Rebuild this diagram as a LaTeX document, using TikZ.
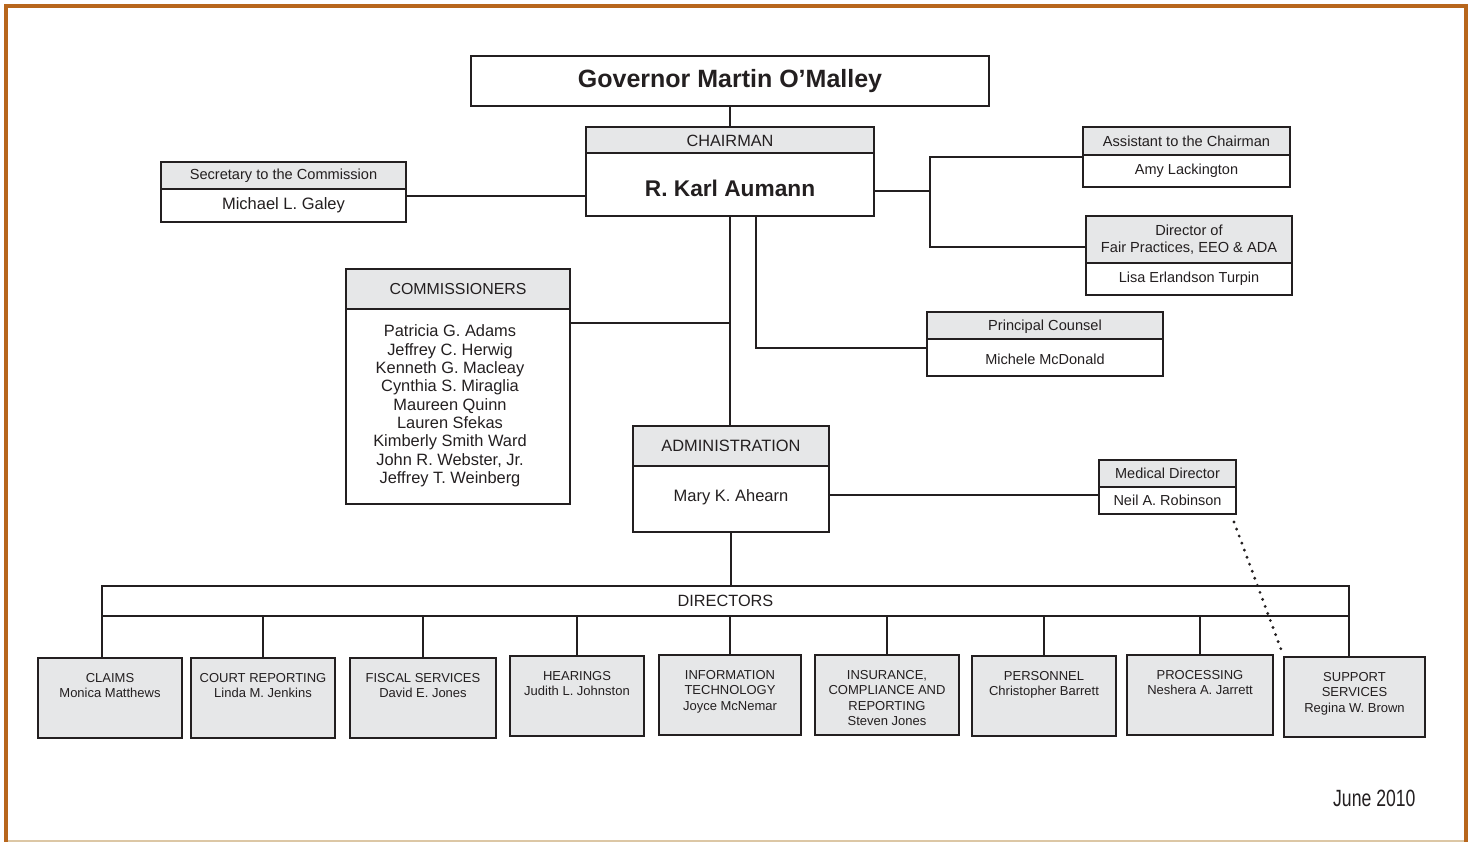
\documentclass[tikz,border=0pt]{standalone}
\usepackage{fontspec}
\setmainfont{Liberation Sans}
\usepackage{xcolor}
\usepackage{tikz}
\usetikzlibrary{positioning,calc}

\definecolor{boxgray}{HTML}{E6E7E8}
\definecolor{inkline}{HTML}{231F20}
\definecolor{frameorange}{HTML}{B8661C}
\definecolor{frametan}{HTML}{DCC7A5}

\newcommand{\fsz}[2]{\fontsize{#1}{#2}\selectfont}
\newcommand{\deptbox}[1]{\parbox[t][78pt][t]{132pt}{\centering\vspace*{14pt}#1}}

\begin{document}
\begin{tikzpicture}[x=1pt,y=-1pt,
  hdr/.style={draw=inkline,line width=1.6pt,fill=boxgray,text=inkline,inner sep=0pt,outer sep=0pt,align=center},
  body/.style={draw=inkline,line width=1.6pt,fill=white,text=inkline,inner sep=0pt,outer sep=0pt,align=center},
  dept/.style={draw=inkline,line width=1.6pt,fill=boxgray,text=inkline,inner sep=0pt,outer sep=0pt,anchor=north west,minimum height=80pt,font=\fsz{13}{15.5}},
  wire/.style={draw=inkline,line width=1.5pt},
  dotline/.style={draw=inkline,line width=3.2pt,line cap=round,dash pattern=on 0pt off 7.5pt}]

\useasboundingbox (0,0) rectangle (1474,842);

% frame
\draw[frameorange,line width=4pt] (1466,842) -- (1466,6) -- (6,6) -- (6,842);
\draw[frametan,line width=2pt] (8,841) -- (1464,841);

% top of the chart
\node[body,minimum width=518,minimum height=50,anchor=north west,font=\fsz{25}{28}\bfseries] (gov) at (471,56) {Governor Martin O’Malley};

\node[hdr,minimum width=288,minimum height=26,anchor=north west,text height=14pt,font=\fsz{16.3}{19}] (chairT) at (586,127) {CHAIRMAN};
\node[body,minimum width=288,minimum height=63,below=0pt of chairT,text height=24pt,font=\fsz{22.7}{26}\bfseries] (chair) {R. Karl Aumann};

\node[hdr,minimum width=245,minimum height=27,anchor=north west,font=\fsz{14.6}{17}] (secT) at (161,162) {Secretary to the Commission};
\node[body,minimum width=245,minimum height=33,below=0pt of secT,font=\fsz{16.5}{19}] (sec) {Michael L. Galey};

\node[hdr,minimum width=207,minimum height=28,anchor=north west,font=\fsz{14.6}{17}] (asstT) at (1083,127) {Assistant to the Chairman};
\node[body,minimum width=207,minimum height=32,below=0pt of asstT,font=\fsz{14.5}{17}] (asst) {Amy Lackington};

\node[hdr,minimum width=206,minimum height=47,anchor=north west,font=\fsz{14.6}{17}] (fairT) at (1086,216) {Director of\\Fair Practices, EEO \& ADA};
\node[body,minimum width=206,minimum height=32,below=0pt of fairT,font=\fsz{14.5}{17}] (fair) {Lisa Erlandson Turpin};

\node[hdr,minimum width=236,minimum height=27,anchor=north west,text height=14pt,font=\fsz{14.6}{17}] (counselT) at (927,312) {Principal Counsel};
\node[body,minimum width=236,minimum height=37,below=0pt of counselT,text height=14pt,font=\fsz{14.5}{17}] (counsel) {Michele McDonald};

\node[hdr,minimum width=224,minimum height=40,anchor=north west,font=\fsz{15.9}{19}] (commT) at (346,269) {COMMISSIONERS};
\node[body,minimum width=224,minimum height=195,below=0pt of commT,font=\fsz{16.4}{18.3}] (comm) {\begin{tabular}{@{}c@{}}Patricia G. Adams\\Jeffrey C. Herwig\\Kenneth G. Macleay\\Cynthia S. Miraglia\\Maureen Quinn\\Lauren Sfekas\\Kimberly Smith Ward\\John R. Webster, Jr.\\Jeffrey T. Weinberg\end{tabular}\hspace*{16pt}};

\node[hdr,minimum width=196,minimum height=40,anchor=north west,font=\fsz{16.4}{19}] (admT) at (633,426) {ADMINISTRATION};
\node[body,minimum width=196,minimum height=66,below=0pt of admT,text depth=7pt,font=\fsz{16.5}{19}] (adm) {Mary K. Ahearn};

\node[hdr,minimum width=137,minimum height=27,anchor=north west,font=\fsz{14.5}{17}] (medT) at (1099,460) {Medical Director};
\node[body,minimum width=137,minimum height=27,below=0pt of medT,font=\fsz{14.5}{17}] (med) {Neil A. Robinson};

% directors
\node[body,minimum width=1247,minimum height=30,anchor=north west,font=\fsz{16.3}{19}] (dirs) at (102,586) {DIRECTORS};

\node[dept,minimum width=144] (claims) at (38,658) {\deptbox{CLAIMS\\Monica Matthews}};
\node[dept,minimum width=144] (court) at (191,658) {\deptbox{COURT REPORTING\\Linda M. Jenkins}};
\node[dept,minimum width=146] (fiscal) at (350,658) {\deptbox{FISCAL SERVICES\\David E. Jones}};
\node[dept,minimum width=134] (hear) at (510,656) {\deptbox{HEARINGS\\Judith L. Johnston}};
\node[dept,minimum width=142] (infotech) at (659,655) {\deptbox{INFORMATION\\TECHNOLOGY\\Joyce McNemar}};
\node[dept,minimum width=144] (insur) at (815,655) {\deptbox{INSURANCE,\\COMPLIANCE AND\\REPORTING\\Steven Jones}};
\node[dept,minimum width=144] (pers) at (972,656) {\deptbox{PERSONNEL\\Christopher Barrett}};
\node[dept,minimum width=146] (proc) at (1127,655) {\deptbox{PROCESSING\\Neshera A. Jarrett}};
\node[dept,minimum width=141] (sup) at (1284,657) {\deptbox{SUPPORT\\SERVICES\\Regina W. Brown}};

\node[anchor=base east,text=inkline,font=\fsz{23.5}{26}] (date) at (1419,806) {\scalebox{0.75}[1]{June 2010}};

% connectors
\coordinate (rjoin) at (930,191);
\draw[wire] (gov.south) -- (chairT.north);
\draw[wire] (sec.east |- 0,196) -- (chair.west |- 0,196);
\draw[wire] (chair.east |- rjoin) -- (rjoin);
\draw[wire] (asst.west |- 0,157) -| (rjoin);
\draw[wire] (fairT.west |- 0,247) -| (rjoin);
\draw[wire] (chair.south -| 756,0) |- (counsel.west |- 0,348);
\draw[wire] (chair.south) -- (chair.south |- admT.north);
\draw[wire] (comm.east |- 0,323) -- (chair.south |- 0,323);
\draw[wire] (adm.east |- 0,495) -- (med.west |- 0,495);
\draw[wire] (adm.south) -- (adm.south |- dirs.north);
\draw[dotline] ($(med.south east)+(-2,8)$) -- ($(sup.north west)+(-2,-5)$);

\draw[wire] (dirs.south west) -- (dirs.south west |- claims.north);
\draw[wire] (dirs.south east) -- (dirs.south east |- sup.north);
\foreach \d in {court,fiscal,hear,infotech,insur,pers,proc}
  \draw[wire] (\d.north) -- (\d.north |- dirs.south);

\end{tikzpicture}
\end{document}
